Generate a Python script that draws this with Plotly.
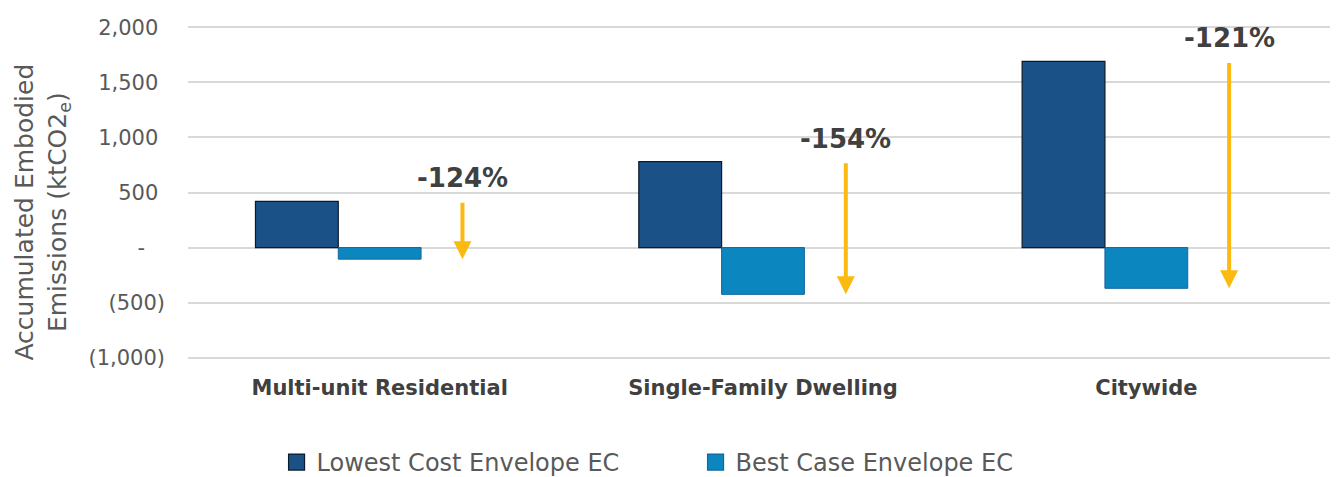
import plotly.graph_objects as go

categories = ["Multi-unit Residential", "Single-Family Dwelling", "Citywide"]
lowest_cost = [420, 780, 1690]
best_case = [-105, -425, -370]
pct_labels = ["-124%", "-154%", "-121%"]
series_names = ["Lowest Cost Envelope EC", "Best Case Envelope EC"]
tick_vals = [-1000, -500, 0, 500, 1000, 1500, 2000]
tick_text = ["(1,000)", "(500)", "-\u00a0\u00a0\u00a0", "500\u00a0", "1,000\u00a0", "1,500\u00a0", "2,000\u00a0"]
y_title = "Accumulated Embodied<br>Emissions (ktCO2<sub>e</sub>)"

W = 0.216
DARK = "#1A5287"
LIGHT = "#0C86BF"
DARK_EDGE = "#0B1B2B"
LIGHT_EDGE = "#1466A0"
ARROW = "#FBBA12"
FONT = "DejaVu Sans"

fig = go.Figure()
fig.add_trace(go.Bar(
    x=categories, y=lowest_cost, name=series_names[0], showlegend=False,
    width=W, offset=-1.5 * W,
    marker=dict(color=DARK, line=dict(color=DARK_EDGE, width=1.2)),
))
fig.add_trace(go.Bar(
    x=categories, y=best_case, name=series_names[1], showlegend=False,
    width=W, offset=-0.5 * W,
    marker=dict(color=LIGHT, line=dict(color=LIGHT_EDGE, width=1)),
))
# legend entries (square swatches)
for name, col, edge in [(series_names[0], DARK, DARK_EDGE), (series_names[1], LIGHT, LIGHT_EDGE)]:
    fig.add_trace(go.Scatter(
        x=[None], y=[None], mode="markers", name=name,
        marker=dict(symbol="square", size=16, color=col, line=dict(color=edge, width=1.2)),
    ))

for i, (top, bot, lab) in enumerate(zip(lowest_cost, best_case, pct_labels)):
    fig.add_annotation(
        x=i + W, y=bot, ax=i + W, ay=top, xref="x", yref="y", axref="x", ayref="y",
        showarrow=True, arrowhead=2, arrowsize=0.9, arrowwidth=4, arrowcolor=ARROW,
        text="",
    )
    fig.add_annotation(
        x=i + W, y=top, xref="x", yref="y", text="<b>" + lab + "</b>",
        showarrow=False, yanchor="bottom", yshift=6,
        font=dict(family=FONT, size=26, color="#404040"),
    )

fig.add_annotation(
    x=-0.1265, y=0.442, xref="paper", yref="paper", text=y_title, textangle=-90,
    showarrow=False, xanchor="center", yanchor="middle",
    font=dict(family=FONT, size=25, color="#595959"),
)

fig.update_layout(
    width=1330, height=469,
    margin=dict(l=180, r=0, t=16, b=116, autoexpand=False),
    plot_bgcolor="white", paper_bgcolor="white",
    barmode="overlay",
    font=dict(family=FONT, color="#595959"),
    showlegend=True,
    legend=dict(
        orientation="h", x=0.077, y=-0.301, xanchor="left", yanchor="middle",
        font=dict(family=FONT, size=24, color="#595959"),
        itemwidth=30, entrywidth=374, entrywidthmode="pixels",
    ),
    xaxis=dict(
        range=[-0.5, 2.5], showgrid=False, zeroline=False, showline=False,
        ticks="", ticklabelstandoff=12,
        tickfont=dict(family=FONT, size=21, color="#404040", weight="bold"),
    ),
    yaxis=dict(
        range=[-1030, 2030], tickvals=tick_vals, ticktext=tick_text,
        showgrid=True, gridcolor="#D9D9D9", gridwidth=1.5,
        zeroline=True, zerolinecolor="#D9D9D9", zerolinewidth=1.5,
        showline=False, ticks="", ticklabelstandoff=22,
        tickfont=dict(family=FONT, size=21, color="#595959"),
    ),
)

fig.write_html("out.html")
